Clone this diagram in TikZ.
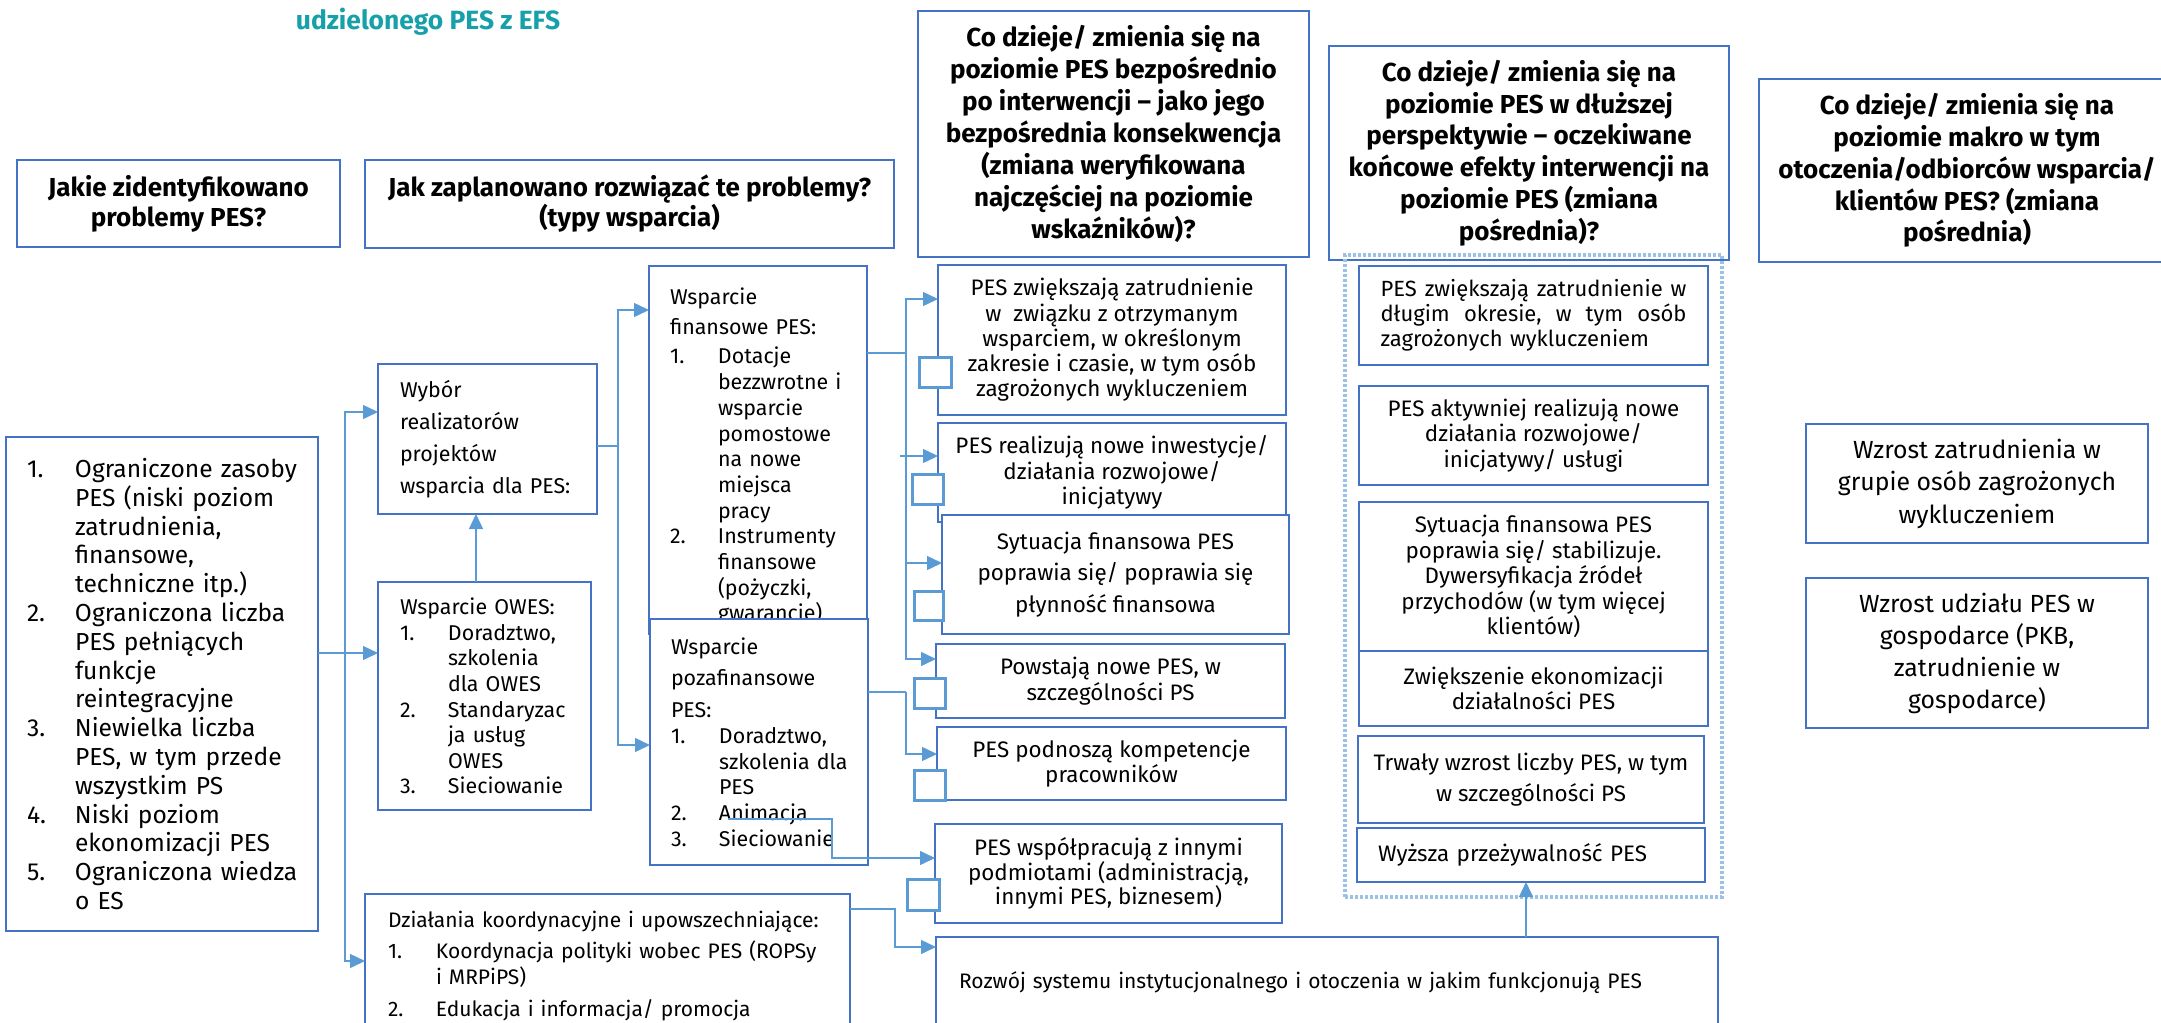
\documentclass[tikz,border=0pt]{standalone}
\usepackage{fontspec}
\setmainfont{Fira Sans}
\usepackage{xcolor}
\definecolor{boxblue}{RGB}{68,114,196}
\definecolor{linkblue}{RGB}{91,155,213}
\definecolor{dotblue}{RGB}{155,194,230}
\definecolor{titleteal}{RGB}{22,160,170}
\usepackage{tikz}
\usetikzlibrary{arrows.meta}
\hyphenpenalty=10000
\exhyphenpenalty=10000
\newcommand{\setfs}[2]{\fontsize{#1}{#2}\selectfont}
\newcommand{\nr}[1]{\makebox[24pt][l]{#1}}
\newcommand{\cont}{\hspace*{24pt}}

\begin{document}
\begin{tikzpicture}[x=0.5pt,y=-0.5pt,
    cell/.style n args={4}{anchor=north west,at={(#1,#2)},
      minimum width={(#3-#1)*0.5pt},minimum height={(#4-#2)*0.5pt}},
    box/.style={draw=boxblue,line width=1.3pt,fill=white,inner sep=0pt,outer sep=0pt},
    head/.style={box,align=center,font=\bfseries\setfs{13}{16}},
    body/.style={box,align=center,font=\setfs{11.2}{#1}},
    lbody/.style={box,align=left,font=\setfs{10.7}{#1}},
    sq/.style={draw=linkblue,line width=1.4pt,fill=white,inner sep=0pt},
    link/.style={linkblue,line width=0.7pt},
    conn/.style={link,-{Triangle[length=7.5pt,width=7pt]}},
    dotframe/.style={draw=dotblue,line width=2pt,dash pattern=on 1.5pt off 1pt,inner sep=0pt}]
  % Page
  \useasboundingbox (0,0) rectangle (2161,1022);
  \clip (0,0) rectangle (2161,1022);
  % Title
  \node[font=\bfseries\setfs{13.2}{15},text=titleteal] (title) at (428,22) {udzielonego PES z EFS};
  % Column heads
  \node[head,font=\bfseries\setfs{13}{15},cell={17}{160}{340}{247}] (h1)
    {Jakie zidentyfikowano\\problemy PES?};
  \node[head,font=\bfseries\setfs{13}{15},cell={365}{160}{894}{248}] (h2)
    {Jak zaplanowano rozwiązać te problemy?\\(typy wsparcia)};
  \node[head,cell={918}{11}{1309}{257}] (h3)
    {Co dzieje/ zmienia się na\\poziomie PES bezpośrednio\\po interwencji – jako jego\\bezpośrednia konsekwencja\\(zmiana weryfikowana\\najczęściej na poziomie\\wskaźników)?};
  \node[head,font=\bfseries\setfs{13}{15.9},cell={1329}{46}{1729}{260}] (h4)
    {Co dzieje/ zmienia się na\\poziomie PES w dłuższej\\perspektywie – oczekiwane\\końcowe efekty interwencji na\\poziomie PES (zmiana\\pośrednia)?};
  \node[head,font=\bfseries\setfs{13}{15.9},cell={1759}{79}{2175}{262}] (h5)
    {Co dzieje/ zmienia się na\\poziomie makro w tym\\otoczenia/odbiorców wsparcia/\\klientów PES? (zmiana\\pośrednia)};
  % Group frame
  \node[dotframe,cell={1343}{253}{1720}{895}] (grp) {};
  % Problems
  \node[box,align=left,text width=135pt,font=\setfs{12.3}{14.4},cell={6}{437}{318}{931}] (L)
    {\nr{1.}Ograniczone~zasoby\\ \cont PES~(niski~poziom\\ \cont zatrudnienia,\\ \cont finansowe,\\ \cont techniczne~itp.)\\
     \nr{2.}Ograniczona~liczba\\ \cont PES~pełniących\\ \cont funkcje\\ \cont reintegracyjne\\
     \nr{3.}Niewielka~liczba\\ \cont PES,~w~tym~przede\\ \cont wszystkim~PS\\
     \nr{4.}Niski~poziom\\ \cont ekonomizacji~PES\\
     \nr{5.}Ograniczona~wiedza\\ \cont o~ES};
  % Support types
  \node[lbody=16,text width=87.5pt,cell={378}{364}{597}{514}] (wybor)
    {Wybór\\realizatorów\\projektów\\wsparcia~dla~PES:};
  \node[lbody=12.8,text width=84.5pt,cell={378}{582}{591}{810}] (owes)
    {Wsparcie~OWES:\\ \nr{1.}Doradztwo,\\ \cont szkolenia\\ \cont dla~OWES\\
     \nr{2.}Standaryzac\\ \cont ja~usług\\ \cont OWES\\ \nr{3.}Sieciowanie};
  \node[lbody=12.85,text width=88pt,cell={649}{266}{867}{634}] (fin)
    {\rule{0pt}{15pt}Wsparcie\\[2pt] finansowe~PES:\\[2pt] \nr{1.}Dotacje\\ \cont bezzwrotne~i\\ \cont wsparcie\\ \cont pomostowe\\
     \cont na~nowe\\ \cont miejsca\\ \cont pracy\\ \nr{2.}Instrumenty\\ \cont finansowe\\ \cont (pożyczki,\\ \cont gwarancje)};
  \node[lbody=12.85,text width=88pt,cell={650}{619}{868}{865}] (poza)
    {Wsparcie\\[3pt] pozafinansowe\\[3pt] PES:\\ \nr{1.}Doradztwo,\\ \cont szkolenia~dla\\ \cont PES\\
     \nr{2.}Animacja\\ \nr{3.}Sieciowanie};
  \node[lbody=13,font=\setfs{10.5}{13},text width=219.5pt,cell={365}{894}{850}{1038}] (dzial)
    {Działania~koordynacyjne~i~upowszechniające:\\[2.5pt] \nr{1.}Koordynacja~polityki~wobec~PES~(ROPSy\\
     \cont i~MRPiPS)\\[3pt] \nr{2.}Edukacja~i~informacja/~promocja};
  % Direct effects
  \node[body=12.65,cell={938}{265}{1286}{415}] (c1)
    {PES zwiększają zatrudnienie\\w~ związku z otrzymanym\\wsparciem, w określonym\\zakresie i czasie, w tym osób\\zagrożonych wykluczeniem};
  \node[body=12.75,cell={938}{423}{1286}{522}] (c2)
    {PES realizują nowe inwestycje/\\działania rozwojowe/\\inicjatywy};
  \node[body=15.75,cell={942}{515}{1289}{634}] (c3)
    {Sytuacja finansowa PES\\poprawia się/ poprawia się\\płynność finansowa};
  \node[body=13,cell={936}{644}{1285}{718}] (c4)
    {Powstają nowe PES, w\\szczególności PS};
  \node[body=12.5,cell={937}{727}{1286}{800}] (c5)
    {PES podnoszą kompetencje\\pracowników};
  \node[body=12.25,cell={935}{824}{1282}{923}] (c6)
    {PES współpracują z innymi\\podmiotami (administracją,\\innymi PES, biznesem)};
  \node[lbody=12,font=\setfs{10.5}{12},text width=368pt,cell={936}{937}{1718}{1029}] (rozwoj)
    {Rozwój~systemu~instytucjonalnego~i~otoczenia~w~jakim~funkcjonują~PES};
  % Long-term effects
  \node[lbody=12.5,font=\setfs{11}{12.5},text width=153pt,cell={1359}{266}{1708}{365}] (d1)
    {\makebox[153pt][s]{PES \hfill zwiększają \hfill zatrudnienie \hfill w}\\
     \makebox[153pt][s]{długim \hfill okresie, \hfill w \hfill tym \hfill osób}\\
     zagrożonych~wykluczeniem};
  \node[body=12.75,cell={1359}{386}{1708}{485}] (d2)
    {PES aktywniej realizują nowe\\działania rozwojowe/\\inicjatywy/ usługi};
  \node[body=12.8,cell={1359}{502}{1708}{651}] (d3)
    {Sytuacja finansowa PES\\poprawia się/ stabilizuje.\\Dywersyfikacja źródeł\\przychodów (w tym więcej\\klientów)};
  \node[body=12.5,cell={1359}{651}{1708}{726}] (d4)
    {Zwiększenie ekonomizacji\\działalności PES};
  \node[body=15.5,cell={1358}{736}{1704}{823}] (d5)
    {Trwały wzrost liczby PES, w tym\\w szczególności PS};
  \node[lbody=12,font=\setfs{11.2}{12},text width=153pt,cell={1357}{828}{1705}{882}] (d6)
    {Wyższa~przeżywalność~PES};
  % Macro effects
  \node[box,align=center,font=\setfs{12.4}{16.25},cell={1806}{424}{2148}{543}] (e1)
    {Wzrost zatrudnienia w\\grupie osób zagrożonych\\wykluczeniem};
  \node[box,align=center,font=\setfs{12.4}{16},cell={1806}{578}{2148}{728}] (e2)
    {Wzrost udziału PES w\\gospodarce (PKB,\\zatrudnienie w\\gospodarce)};
  % Junctions
  \coordinate (tA) at (345,653);
  \coordinate (tB) at (618,446);
  \coordinate (tC) at (906,353);
  \coordinate (tD) at (906,692);
  \coordinate (tE) at (895,909);
  \coordinate (stub) at (900,456);
  \coordinate (anim) at (728,819);
  % Connectors
  \draw[conn] (L.east |- tA) -- (owes.west |- tA);
  \draw[conn] (tA) |- (wybor.west |- 0,412);
  \draw[conn] (tA) |- (dzial.west |- 0,961);
  \draw[conn] (owes.north -| 476,0) -- (wybor.south -| 476,0);
  \draw[link] (wybor.east |- tB) -- (tB);
  \draw[conn] (tB) |- (fin.west |- 0,310);
  \draw[conn] (tB) |- (poza.west |- 0,745);
  \draw[link] (fin.east |- tC) -- (tC);
  \draw[conn] (tC) |- (c1.west |- 0,299);
  \draw[conn] (tC) |- (c3.west |- 0,563);
  \draw[conn] (tC) |- (c4.west |- 0,659);
  \draw[link] (poza.east |- tD) -- (tD);
  \draw[conn] (tD) |- (c5.west |- 0,754);
  \draw[conn] (stub) -- (c2.west |- stub);
  \draw[conn] (anim) -- ++(104,0) |- (c6.west |- 0,858);
  \draw[conn] (dzial.east |- tE) -- (tE) |- (rozwoj.west |- 0,947);
  \draw[conn] (rozwoj.north -| 1526,0) -- (d6.south -| 1526,0);
  % Small squares
  \node[sq,cell={918}{356}{950}{386}] (s1) {};
  \node[sq,cell={911}{473}{942}{503}] (s2) {};
  \node[sq,cell={913}{590}{942}{619}] (s3) {};
  \node[sq,cell={913}{677}{944}{707}] (s4) {};
  \node[sq,cell={913}{769}{944}{799}] (s5) {};
  \node[sq,cell={906}{878}{938}{909}] (s6) {};
\end{tikzpicture}
\end{document}
